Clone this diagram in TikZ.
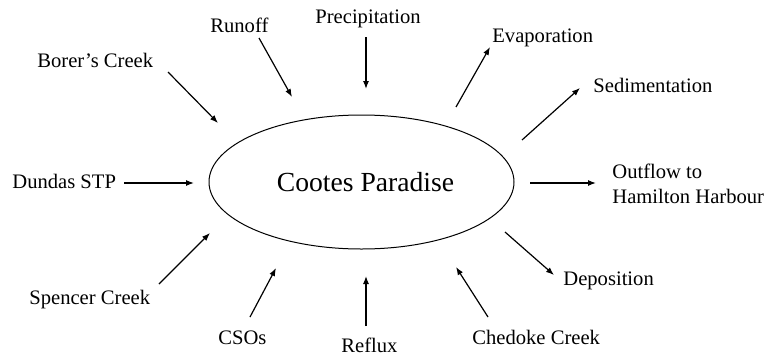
\documentclass[tikz,border=0pt]{standalone}
\usepackage{fontspec}
\setmainfont{Liberation Serif}
\usetikzlibrary{arrows.meta,shapes.geometric}

\tikzset{
  flow/.style={-{Latex[length=4pt,width=3pt]}, line width=0.6pt},
  term/.style={anchor=base west, inner sep=0pt, font=\fontsize{10.3}{12.5}\selectfont},
}

\begin{document}
\begin{tikzpicture}[x=0.5pt,y=-0.5pt]
                      \useasboundingbox (0,0) rectangle (765,359);

                      \node[draw, ellipse, line width=0.5pt, inner sep=0pt, minimum width=152.5pt, minimum height=67pt,
                            font=\fontsize{13.8}{16}\selectfont] (cootes) at (361.5,182) {\hspace{4pt}Cootes Paradise};

                      % inflows
                      \node[term] (runoff) at (210,32) {Runoff};
                      \node[term] (precip) at (315,23) {Precipitation};
                      \node[term] (borer) at (37,67.5) {Borer's Creek};
                      \node[term] (dundas) at (12,188) {Dundas STP};
                      \node[term] (spencer) at (29,304) {Spencer Creek};
                      \node[term] (csos) at (218,344) {CSOs};
                      \node[term] (reflux) at (341,352) {Reflux};
                      \node[term] (chedoke) at (472,344.5) {Chedoke Creek};

                      % outflows
                      \node[term] (evap) at (492,42.5) {Evaporation};
                      \node[term] (sediment) at (593,92.5) {Sedimentation};
                      \node[term, anchor=north west, align=left] (outflow) at (612,163.5) {Outflow to\\Hamilton Harbour};
                      \node[term] (deposit) at (563,285.5) {Deposition};

                      \coordinate (runoff-a) at (259,38);    \coordinate (runoff-b) at (292,97);
                      \coordinate (precip-a) at (366,37);    \coordinate (precip-b) at (366,89);
                      \coordinate (borer-a) at (168,72);     \coordinate (borer-b) at (218,123);
                      \coordinate (dundas-a) at (124,183);   \coordinate (dundas-b) at (194,183);
                      \coordinate (spencer-a) at (159,284);  \coordinate (spencer-b) at (210,233);
                      \coordinate (csos-a) at (250,317);     \coordinate (csos-b) at (276,268);
                      \coordinate (reflux-a) at (366,326);   \coordinate (reflux-b) at (366,276);
                      \coordinate (chedoke-a) at (488,317);  \coordinate (chedoke-b) at (456,267);
                      \coordinate (evap-a) at (456,107);     \coordinate (evap-b) at (490,47);
                      \coordinate (sediment-a) at (522,140); \coordinate (sediment-b) at (580,88);
                      \coordinate (outflow-a) at (530,183);  \coordinate (outflow-b) at (596,183);
                      \coordinate (deposit-a) at (505,232);  \coordinate (deposit-b) at (554,275);

                      \draw[flow] (runoff-a) -- (runoff-b);
                      \draw[flow] (precip-a) -- (precip-b);
                      \draw[flow] (borer-a) -- (borer-b);
                      \draw[flow] (dundas-a) -- (dundas-b);
                      \draw[flow] (spencer-a) -- (spencer-b);
                      \draw[flow] (csos-a) -- (csos-b);
                      \draw[flow] (reflux-a) -- (reflux-b);
                      \draw[flow] (chedoke-a) -- (chedoke-b);
                      \draw[flow] (evap-a) -- (evap-b);
                      \draw[flow] (sediment-a) -- (sediment-b);
                      \draw[flow] (outflow-a) -- (outflow-b);
                      \draw[flow] (deposit-a) -- (deposit-b);
\end{tikzpicture}
\end{document}
